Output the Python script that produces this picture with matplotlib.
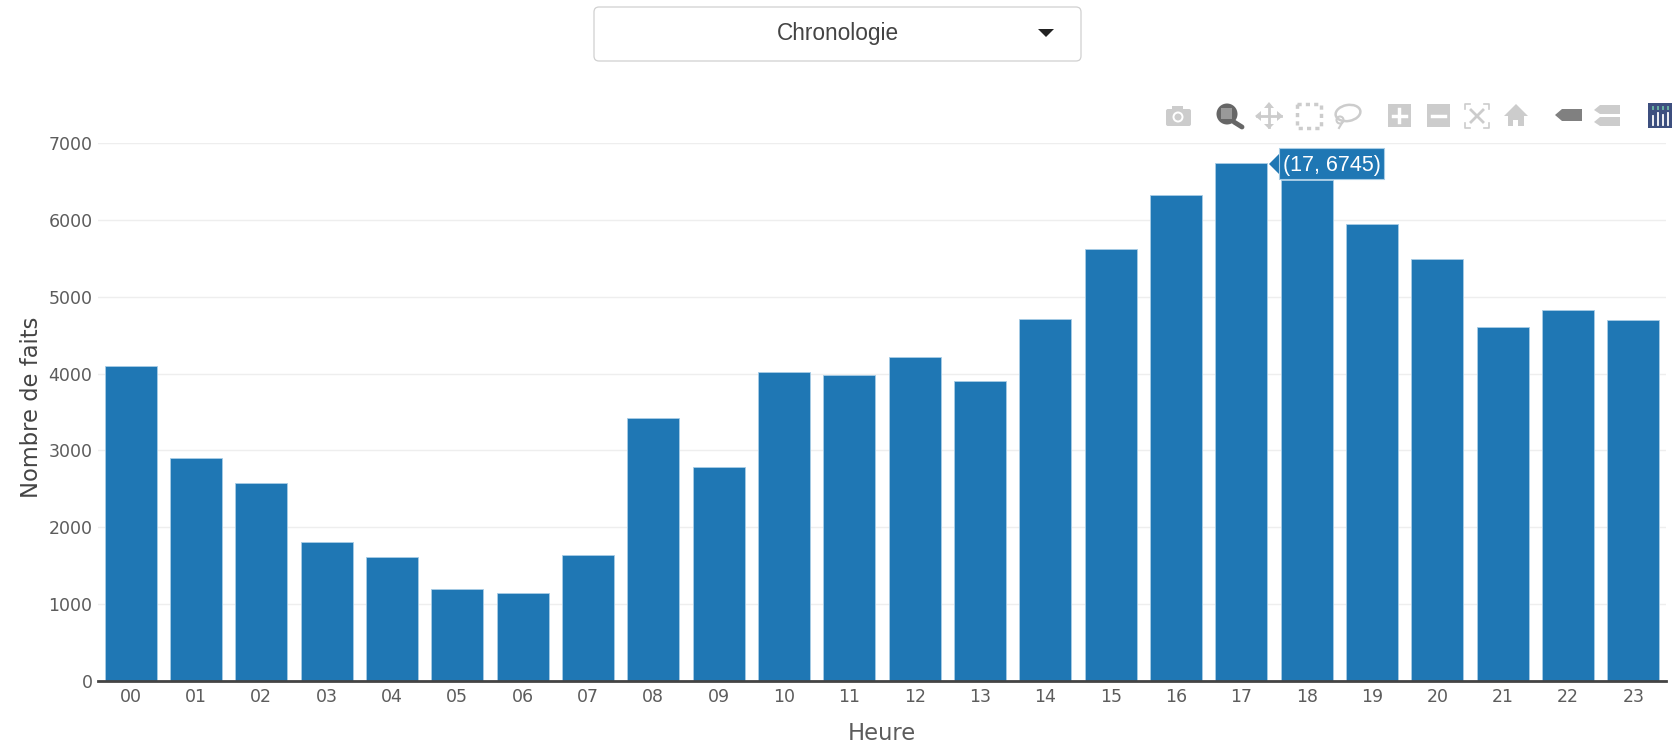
import matplotlib
matplotlib.use("Agg")
import matplotlib.pyplot as plt
from matplotlib.patches import Rectangle, FancyBboxPatch, Polygon, Circle, Ellipse

W, H = 1677, 744

heures = ["%02d" % h for h in range(24)]
faits = [4100, 2900, 2580, 1810, 1610, 1200, 1150, 1640, 3420, 2790, 4020, 3985,
         4220, 3900, 4710, 5620, 6320, 6745, 6520, 5940, 5490, 4610, 4830, 4700]
yticks = [0, 1000, 2000, 3000, 4000, 5000, 6000, 7000]

bleu = "#1f77b4"
texte = "#5c5c5c"

plt.rcParams['font.family'] = ['DejaVu Sans']

fig = plt.figure(figsize=(W/100, H/100), dpi=100)
# axes placed on the plotly plot area (pixels)
ax = fig.add_axes([98/W, 1-681/H, (1666-98)/W, (681-143)/H])
ax.bar(range(24), faits, width=0.795, color=bleu, edgecolor="#a8cde6", linewidth=0.6, zorder=3)
ax.set_xlim(-0.5, 23.5)
ax.set_ylim(0, 7000)
ax.set_xticks(range(24))
ax.set_xticklabels(heures)
ax.set_yticks(yticks)
ax.grid(axis="y", color="#eeeeee", linewidth=1)
ax.set_axisbelow(True)
for s in ["top", "right", "left"]:
    ax.spines[s].set_visible(False)
ax.spines["bottom"].set_color("#444444")
ax.spines["bottom"].set_linewidth(2)
ax.spines["bottom"].set_zorder(4)
ax.tick_params(axis="x", length=0, pad=5, labelsize=12.5, labelcolor=texte)
ax.tick_params(axis="y", length=0, pad=4, labelsize=12.5, labelcolor=texte)
ax.set_xlabel("Heure", fontsize=16.3, color=texte, labelpad=11.5)
ax.set_ylabel("Nombre de faits", fontsize=16.3, color="#444444")
ax.yaxis.set_label_coords(-0.0352, 0.508)

# overlay in pixel coordinates for the page widgets
ov = fig.add_axes([0, 0, 1, 1], zorder=10)
ov.set_xlim(0, W)
ov.set_ylim(H, 0)
ov.axis("off")

# dropdown
ov.add_patch(FancyBboxPatch((594, 7), 487, 54, boxstyle="round,pad=0,rounding_size=5",
                            fc="white", ec="#d0d0d0", lw=0.9))
ov.text(838, 33.5, "Chronologie", fontsize=16.3, family="Liberation Sans", color="#444444",
        ha="center", va="center")
ov.add_patch(Polygon([[1038, 29], [1054, 29], [1046, 37]], fc="#222222", ec="none"))

# tooltip
ov.add_patch(Polygon([[1269, 164], [1279, 154], [1279, 174]], fc=bleu, ec="none"))
ov.add_patch(Rectangle((1279, 148), 105, 31, fc=bleu, ec="#a8cde6", lw=0.8))
ov.text(1332, 165, "(17, 6745)", fontsize=15.5, family="Liberation Sans", color="white",
        ha="center", va="center")

# toolbar
ig = "#cccccc"
# camera
ov.add_patch(FancyBboxPatch((1166, 109), 25, 17, boxstyle="round,pad=0,rounding_size=2", fc=ig, ec="none"))
ov.add_patch(Rectangle((1172, 106), 11, 4, fc=ig, ec="none"))
ov.add_patch(Circle((1178, 117), 5.5, fc="white", ec="none"))
ov.add_patch(Circle((1178, 117), 3.5, fc=ig, ec="none"))
# zoom (active)
ov.add_patch(Circle((1227, 114), 10.5, fc="#666666", ec="none"))
ov.add_patch(Rectangle((1221, 108), 11, 11, fc="#999999", ec="none"))
ov.plot([1234, 1242], [122, 127], color="#666666", lw=3.5, solid_capstyle="round")
# pan
ov.plot([1269, 1269], [105, 127], color=ig, lw=2)
ov.plot([1257, 1281], [116, 116], color=ig, lw=2)
ov.add_patch(Polygon([[1269, 102], [1264, 108], [1274, 108]], fc=ig, ec="none"))
ov.add_patch(Polygon([[1269, 129], [1264, 124], [1274, 124]], fc=ig, ec="none"))
ov.add_patch(Polygon([[1255, 116], [1261, 111], [1261, 121]], fc=ig, ec="none"))
ov.add_patch(Polygon([[1283, 116], [1277, 111], [1277, 121]], fc=ig, ec="none"))
# box select
ov.add_patch(Rectangle((1297, 104), 24, 24, fc="none", ec=ig, lw=2.5, ls=(0, (1.2, 1.2))))
# lasso
ov.add_patch(Ellipse((1348, 113), 25, 16, angle=-10, fc="none", ec=ig, lw=1.8))
ov.add_patch(Circle((1340, 120), 3.5, fc="none", ec=ig, lw=1.5))
ov.plot([1342, 1339], [123, 128], color=ig, lw=1.5)
# zoom in / out
ov.add_patch(Rectangle((1388, 104), 23, 23, fc=ig, ec="none"))
ov.plot([1393, 1406], [115.5, 115.5], color="white", lw=2.5)
ov.plot([1399.5, 1399.5], [109, 122], color="white", lw=2.5)
ov.add_patch(Rectangle((1427, 104), 23, 23, fc=ig, ec="none"))
ov.plot([1432, 1445], [115.5, 115.5], color="white", lw=2.5)
# autoscale
for cx, sx in [(1465, 1), (1489, -1)]:
    for cy, sy in [(104, 1), (128, -1)]:
        ov.plot([cx + 5*sx, cx, cx], [cy, cy, cy + 5*sy], color=ig, lw=1.2)
ov.plot([1471, 1483], [110, 122], color=ig, lw=2)
ov.plot([1483, 1471], [110, 122], color=ig, lw=2)
# home
ov.add_patch(Polygon([[1516, 104], [1504, 116], [1528, 116]], fc=ig, ec="none"))
ov.add_patch(Rectangle((1508, 116), 16, 10, fc=ig, ec="none"))
ov.add_patch(Rectangle((1513, 120), 5, 6, fc="white", ec="none"))
# spike lines / hover
ov.add_patch(Polygon([[1555, 115], [1562, 109], [1582, 109], [1582, 121], [1562, 121]], fc="#808080", ec="none"))
ov.add_patch(Polygon([[1594, 110], [1600, 105], [1620, 105], [1620, 114], [1600, 114]], fc=ig, ec="none"))
ov.add_patch(Polygon([[1594, 122], [1600, 117], [1620, 117], [1620, 126], [1600, 126]], fc=ig, ec="none"))
# plotly logo
ov.add_patch(Rectangle((1648, 103), 24, 25, fc="#3d4f7f", ec="none"))
for xl in [1653, 1658, 1663, 1668]:
    ov.plot([xl, xl], [107, 109], color="#69b3a2", lw=1.4)
for xl, yt in [(1653, 116), (1658, 113), (1663, 115), (1668, 113)]:
    ov.plot([xl, xl], [yt, 125], color="white", lw=1.3)

fig.savefig("out.png", dpi=100)
